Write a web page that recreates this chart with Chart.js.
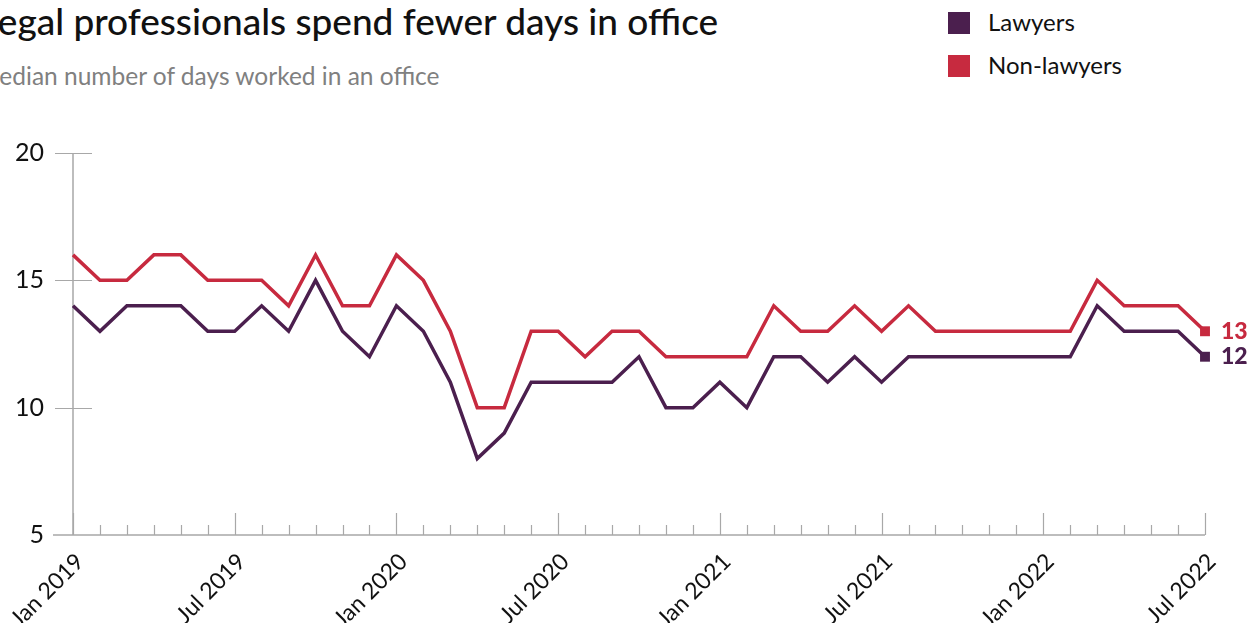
<!DOCTYPE html>
<html>
<head>
<meta charset="utf-8">
<script src="https://cdn.jsdelivr.net/npm/chart.js@4"></script>
<style>
  body { margin: 0; background: #fff; overflow: hidden; }
  #wrap { position: relative; width: 1252px; height: 623px; font-family: Lato, sans-serif; }
  #title { position: absolute; left: -20px; top: -2px; font-size: 37px; font-weight: 500; color: #111; white-space: nowrap; }
  #subtitle { position: absolute; left: -23px; top: 61px; font-size: 24.5px; color: #808080; white-space: nowrap; }
  .key { position: absolute; left: 948px; font-size: 24px; color: #111; }
  .key span { position: absolute; left: 0; top: 0; width: 22px; height: 22px; }
  .key b { position: absolute; left: 40px; top: -5px; font-weight: 400; white-space: nowrap; }
  canvas { position: absolute; left: 0; top: 0; }
</style>
</head>
<body>
<div id="wrap">
  <div id="title">Legal professionals spend fewer days in office</div>
  <div id="subtitle">Median number of days worked in an office</div>
  <div class="key" style="top:12px"><span style="background:#4b1f4e"></span><b>Lawyers</b></div>
  <div class="key" style="top:55px"><span style="background:#c72a3f"></span><b>Non-lawyers</b></div>
  <canvas id="lineChart" width="1252" height="623"></canvas>
</div>
<script>
// Median office days per month, Jan 2019 - Jul 2022
const months = [
  "Jan 2019", "Feb 2019", "Mar 2019", "Apr 2019", "May 2019", "Jun 2019",
  "Jul 2019", "Aug 2019", "Sep 2019", "Oct 2019", "Nov 2019", "Dec 2019",
  "Jan 2020", "Feb 2020", "Mar 2020", "Apr 2020", "May 2020", "Jun 2020",
  "Jul 2020", "Aug 2020", "Sep 2020", "Oct 2020", "Nov 2020", "Dec 2020",
  "Jan 2021", "Feb 2021", "Mar 2021", "Apr 2021", "May 2021", "Jun 2021",
  "Jul 2021", "Aug 2021", "Sep 2021", "Oct 2021", "Nov 2021", "Dec 2021",
  "Jan 2022", "Feb 2022", "Mar 2022", "Apr 2022", "May 2022", "Jun 2022",
  "Jul 2022",
];
const lawyers = [
  14, 13, 14, 14, 14, 13, 13, 14, 13, 15, 13, 12,
  14, 13, 11, 8, 9, 11, 11, 11, 11, 12, 10, 10,
  11, 10, 12, 12, 11, 12, 11, 12, 12, 12, 12, 12,
  12, 12, 14, 13, 13, 13, 12,
];
const nonLawyers = [
  16, 15, 15, 16, 16, 15, 15, 15, 14, 16, 14, 14,
  16, 15, 13, 10, 10, 13, 13, 12, 13, 13, 12, 12,
  12, 12, 14, 13, 13, 14, 13, 14, 13, 13, 13, 13,
  13, 13, 15, 14, 14, 14, 13,
];
const yTicks = [5, 10, 15, 20];

const purple = "#4b1f4e";
const red = "#c72a3f";
const axisGrey = "#a8a8a8";
const last = months.length - 1;

// axis line, cross ticks on y, upward month ticks on x
const axisMarks = {
  id: "axisMarks",
  beforeDatasetsDraw(chart) {
    const { ctx, chartArea, scales } = chart;
    const x = scales.x, y = scales.y;
    ctx.save();
    ctx.strokeStyle = axisGrey;
    ctx.lineWidth = 1.5;
    ctx.beginPath();
    ctx.moveTo(chartArea.left, y.getPixelForValue(20));
    ctx.lineTo(chartArea.left, chartArea.bottom);
    ctx.moveTo(chartArea.left - 20, chartArea.bottom);
    ctx.lineTo(chartArea.right, chartArea.bottom);
    ctx.stroke();

    ctx.lineWidth = 1.2;
    ctx.beginPath();
    yTicks.slice(1).forEach((v) => {
      const py = Math.round(y.getPixelForValue(v)) + 0.5;
      ctx.moveTo(chartArea.left - 18, py);
      ctx.lineTo(chartArea.left + 19, py);
    });
    months.forEach((m, i) => {
      const px = Math.round(x.getPixelForValue(i)) + 0.5;
      const h = i % 6 === 0 ? 22 : 10;
      ctx.moveTo(px, chartArea.bottom);
      ctx.lineTo(px, chartArea.bottom - h);
    });
    ctx.stroke();
    ctx.restore();
  },
  afterDatasetsDraw(chart) {
    // latest value printed next to the end marker
    const { ctx } = chart;
    ctx.save();
    ctx.font = "900 23px Lato";
    ctx.textAlign = "left";
    ctx.textBaseline = "middle";
    chart.data.datasets.forEach((ds, i) => {
      const pt = chart.getDatasetMeta(i).data[last];
      ctx.fillStyle = ds.borderColor;
      ctx.fillText(ds.data[last], pt.x + 16, pt.y);
    });
    ctx.restore();
  },
};

const endPoint = (c) => (c.dataIndex === last ? 7 : 0);

const data = {
  labels: months,
  datasets: [
    {
      label: "Non-lawyers",
      data: nonLawyers,
      borderColor: red,
      backgroundColor: red,
      borderWidth: 3.5,
      pointStyle: "rect",
      pointRadius: endPoint,
      pointBorderWidth: 0,
      tension: 0,
    },
    {
      label: "Lawyers",
      data: lawyers,
      borderColor: purple,
      backgroundColor: purple,
      borderWidth: 3.5,
      pointStyle: "rect",
      pointRadius: endPoint,
      pointBorderWidth: 0,
      tension: 0,
    },
  ],
};

const config = {
  type: "line",
  data: data,
  options: {
    responsive: false,
    animation: false,
    layout: { padding: { top: 153, right: 47, left: 0, bottom: 0 } },
    scales: {
      x: {
        offset: false,
        grid: { display: false },
        border: { display: false },
        afterFit: (scale) => { scale.height = 88; },
        ticks: {
          autoSkip: false,
          minRotation: 45,
          maxRotation: 45,
          labelOffset: 7,
          padding: 5,
          color: "#111",
          font: { family: "Lato", size: 23 },
          callback: (value, index) => (index % 6 === 0 ? months[index] : ""),
        },
      },
      y: {
        min: 5,
        max: 20,
        grid: { display: false },
        border: { display: false },
        afterFit: (scale) => { scale.width = 73; },
        afterBuildTicks: (scale) => { scale.ticks = yTicks.map((v) => ({ value: v })); },
        ticks: {
          padding: 21,
          color: "#111",
          font: { family: "Lato", size: 25 },
        },
      },
    },
    plugins: {
      legend: { display: false },
      tooltip: { enabled: false },
    },
  },
  plugins: [axisMarks],
};

//render
const lineChart = new Chart(
  document.getElementById("lineChart").getContext("2d"),
  config
);
</script>
</body>
</html>
